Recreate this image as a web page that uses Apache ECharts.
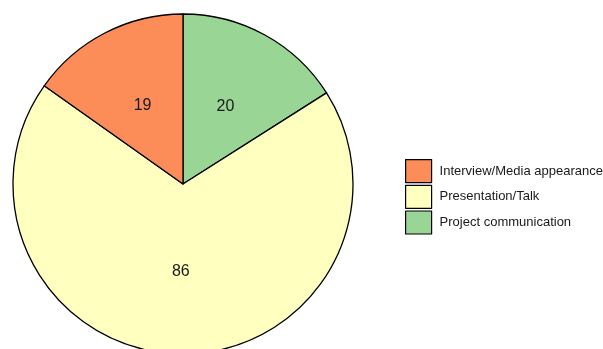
<!DOCTYPE html>
<html>
<head>
<meta charset="utf-8">
<script src="https://cdn.jsdelivr.net/npm/echarts@6/dist/echarts.min.js"></script>
<style>html,body{margin:0;padding:0;background:#fff}#c{width:603px;height:349px}</style>
</head>
<body>
<div id="c"></div>
<script>
const categories = ["Interview/Media appearance", "Presentation/Talk", "Project communication"];
const values = [19, 86, 20];
const colors = ["#FC8D59", "#FFFFBF", "#99D594"];
// drawing order clockwise from 12 o'clock
const drawOrder = [2, 1, 0];

const chart = echarts.init(document.getElementById('c'), null, {renderer: 'canvas'});
chart.setOption({
  animation: false,
  legend: {
    orient: 'vertical',
    left: 405,
    top: 159,
    padding: 0,
    data: categories,
    icon: 'rect',
    itemWidth: 26,
    itemHeight: 23,
    itemGap: 1.5,
    itemStyle: {borderColor: '#000', borderWidth: 1.2},
    textStyle: {fontFamily: 'Liberation Sans, Arial', fontSize: 13, color: '#1a1a1a', padding: [0,0,0,3]},
    selectedMode: false
  },
  series: [{
    type: 'pie',
    center: [183, 184],
    radius: 170,
    startAngle: 90,
    clockwise: true,
    data: drawOrder.map(i => ({name: categories[i], value: values[i], itemStyle: {color: colors[i]}})),
    itemStyle: {borderColor: '#000', borderWidth: 1.3},
    label: {position: 'inside', formatter: '{c}', fontFamily: 'Liberation Sans, Arial', fontSize: 16, color: '#1a1a1a'},
    labelLine: {show: false},
    emphasis: {disabled: true}
  }]
});
</script>
</body>
</html>
